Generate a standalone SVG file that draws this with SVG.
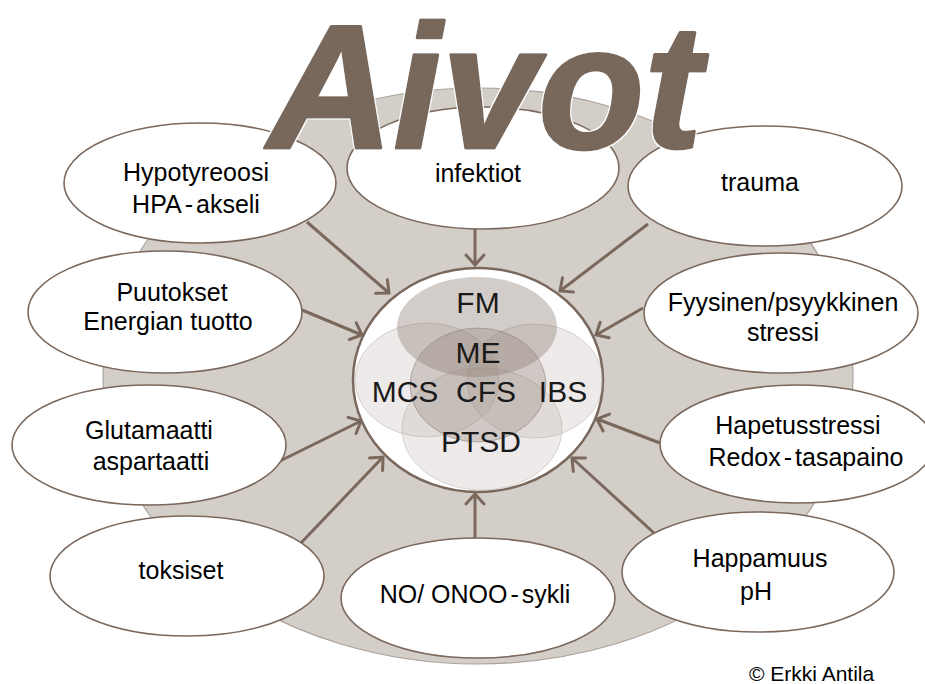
<svg xmlns="http://www.w3.org/2000/svg" width="925" height="684" viewBox="0 0 925 684">
<defs>
<style>
.node{fill:#ffffff;stroke:#7a685c;stroke-width:1.6}
.lbl{font-family:"Liberation Sans",Arial,sans-serif;font-size:25px;fill:#000;text-anchor:middle}
.big{font-family:"Liberation Sans",Arial,sans-serif;font-size:30px;fill:#1a1a1a;text-anchor:middle}
.arr{stroke:#7a685c;stroke-width:3;fill:none;marker-end:url(#head)}
.light{fill:#bdb5af;fill-opacity:0.28;stroke:#9c928b;stroke-opacity:0.35;stroke-width:1}
</style>
<marker id="head" viewBox="0 0 14 22" markerWidth="14" markerHeight="22" refX="12" refY="11" orient="auto" markerUnits="userSpaceOnUse">
<path d="M2,2 L12,11 L2,20" fill="none" stroke="#7a685c" stroke-width="3" stroke-linecap="round" stroke-linejoin="miter"/>
</marker>
<filter id="halo" x="-10%" y="-20%" width="120%" height="140%">
<feMorphology in="SourceAlpha" operator="dilate" radius="1.2" result="d"/>
<feFlood flood-color="#ffffff" result="w"/>
<feComposite in="w" in2="d" operator="in" result="o"/>
<feMerge><feMergeNode in="o"/><feMergeNode in="SourceGraphic"/></feMerge>
</filter>
</defs>
<rect width="925" height="684" fill="#ffffff"/>
<g id="background">
<ellipse cx="478" cy="376" rx="375" ry="288" fill="#d4cec9" stroke="#aaa19a" stroke-width="1.2"/>
</g>
<g id="connectors">
<line class="arr" x1="307" y1="222" x2="389" y2="293"/>
<line class="arr" x1="302" y1="310" x2="362" y2="335"/>
<line class="arr" x1="475" y1="229" x2="475" y2="265"/>
<line class="arr" x1="648" y1="224" x2="560" y2="291"/>
<line class="arr" x1="643" y1="308" x2="596" y2="335"/>
<line class="arr" x1="280" y1="461" x2="361" y2="421"/>
<line class="arr" x1="300" y1="544" x2="383" y2="457"/>
<line class="arr" x1="475" y1="538" x2="475" y2="494"/>
<line class="arr" x1="660" y1="443" x2="597" y2="419"/>
<line class="arr" x1="654" y1="533" x2="572" y2="458"/>
</g>
<g id="n-hypotyreoosi">
<ellipse class="node" cx="200" cy="183" rx="136" ry="60"/>
<text class="lbl" x="196" y="181">Hypotyreoosi</text>
<text class="lbl" x="196" y="213">HPA<tspan dx="3">-</tspan><tspan dx="3">akseli</tspan></text>
</g>
<g id="n-puutokset">
<ellipse class="node" cx="165" cy="312" rx="137" ry="61"/>
<text class="lbl" x="172" y="301">Puutokset</text>
<text class="lbl" x="168" y="330">Energian tuotto</text>
</g>
<g id="n-infektiot">
<ellipse class="node" cx="483" cy="168" rx="136" ry="61"/>
<text class="lbl" x="478" y="182">infektiot</text>
</g>
<g id="n-trauma">
<ellipse class="node" cx="765" cy="186" rx="137" ry="60"/>
<text class="lbl" x="760" y="191">trauma</text>
</g>
<g id="n-fyysinen">
<ellipse class="node" cx="781" cy="313" rx="137" ry="60"/>
<text class="lbl" x="783" y="311">Fyysinen/psyykkinen</text>
<text class="lbl" x="783" y="341">stressi</text>
</g>
<g id="n-glutamaatti">
<ellipse class="node" cx="149" cy="445" rx="137" ry="60"/>
<text class="lbl" x="149" y="439">Glutamaatti</text>
<text class="lbl" x="151" y="470">aspartaatti</text>
</g>
<g id="n-toksiset">
<ellipse class="node" cx="187" cy="576" rx="137" ry="60"/>
<text class="lbl" x="181" y="579">toksiset</text>
</g>
<g id="n-no">
<ellipse class="node" cx="478" cy="598" rx="137" ry="60"/>
<text class="lbl" x="475" y="603">NO/ ONOO<tspan dx="3">-</tspan><tspan dx="3">sykli</tspan></text>
</g>
<g id="n-hapetus">
<ellipse class="node" cx="797" cy="444" rx="137" ry="59"/>
<text class="lbl" x="798" y="434">Hapetusstressi</text>
<text class="lbl" x="806" y="466">Redox<tspan dx="3">-</tspan><tspan dx="3">tasapaino</tspan></text>
</g>
<g id="n-happamuus">
<ellipse class="node" cx="758" cy="572" rx="136" ry="60"/>
<text class="lbl" x="760" y="567">Happamuus</text>
<text class="lbl" x="756" y="600">pH</text>
</g>
<g id="n-center">
<ellipse cx="478" cy="380" rx="125" ry="112" fill="#ffffff" stroke="#7a685c" stroke-width="2.5"/>
<ellipse class="light" cx="427" cy="380" rx="72" ry="57"/>
<ellipse class="light" cx="535" cy="381" rx="68" ry="57"/>
<ellipse class="light" cx="482" cy="429" rx="80" ry="61"/>
<ellipse cx="478" cy="385" rx="68" ry="57" fill="#8a7a6f" fill-opacity="0.3" stroke="#6d5f55" stroke-opacity="0.4" stroke-width="1"/>
<ellipse cx="477" cy="327" rx="80" ry="50" fill="#8c7b70" fill-opacity="0.38"/>
<text class="big" x="478" y="313">FM</text>
<text class="big" x="478" y="363">ME</text>
<text class="big" x="405" y="402">MCS</text>
<text class="big" x="486" y="402">CFS</text>
<text class="big" x="563" y="402">IBS</text>
<text class="big" x="481" y="452">PTSD</text>
</g>
<g id="title" filter="url(#halo)">
<text x="268" y="148" textLength="434" lengthAdjust="spacingAndGlyphs" font-family="'Liberation Sans',Arial,sans-serif" font-size="176" font-weight="bold" font-style="italic" fill="#78675b" stroke="#78675b" stroke-width="3" stroke-linejoin="round">Aivot</text>
</g>
<g id="copyright">
<text x="749" y="681" font-family="'Liberation Sans',Arial,sans-serif" font-size="21" fill="#000">© Erkki Antila</text>
</g>
</svg>
